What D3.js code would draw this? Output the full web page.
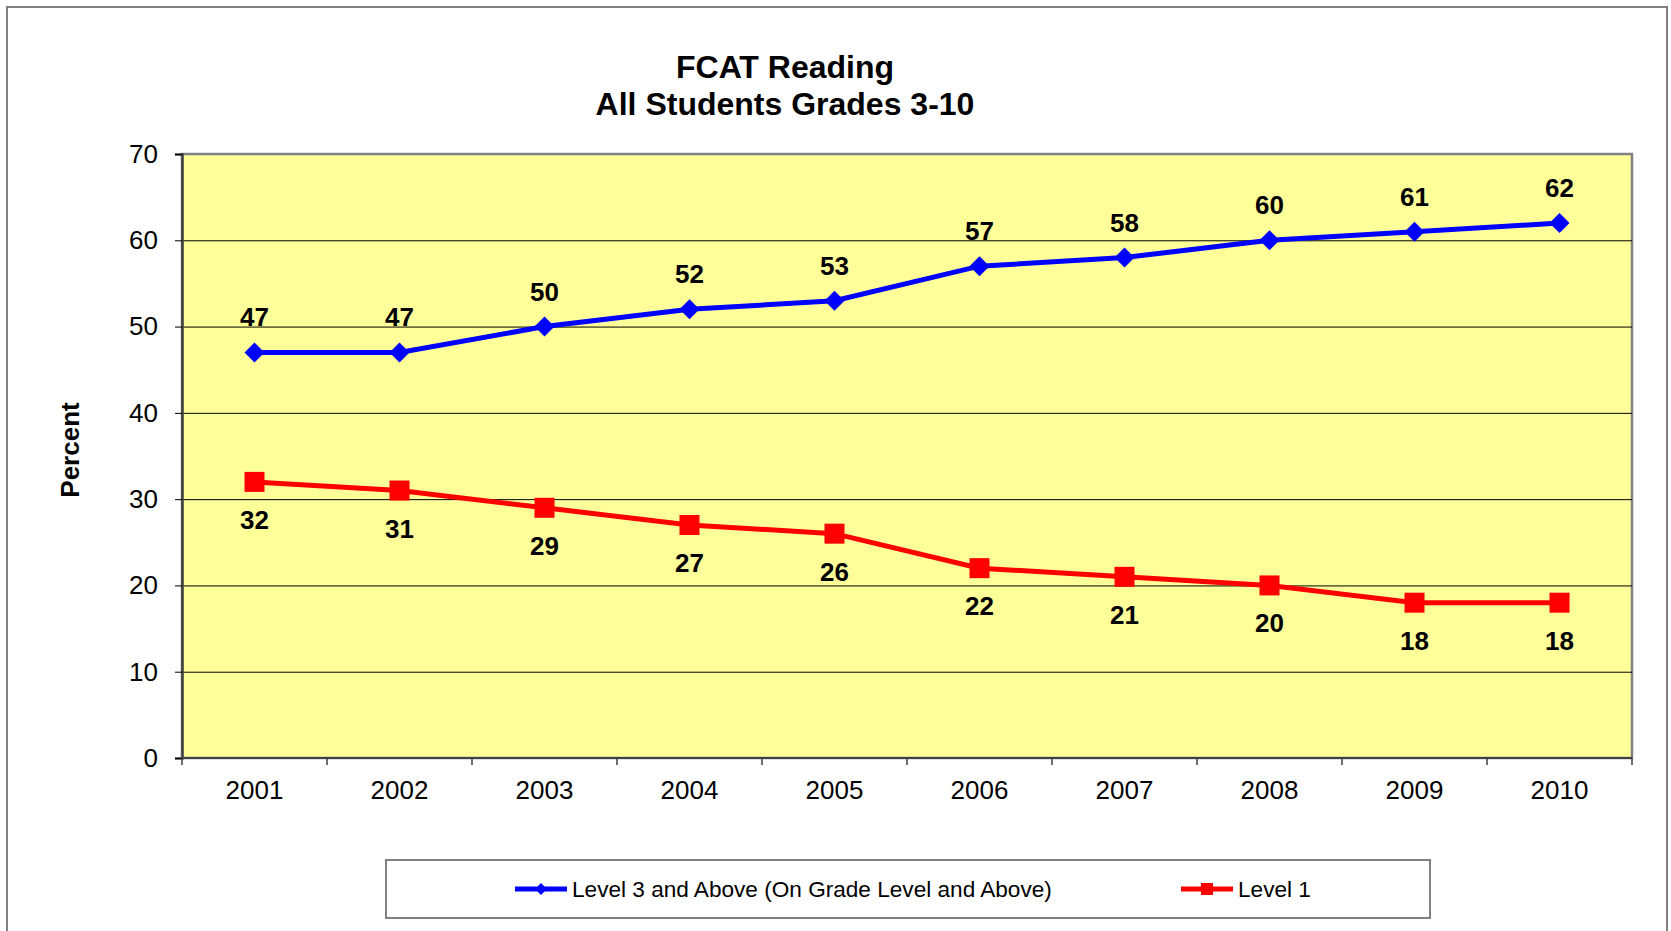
<!DOCTYPE html>
<html>
<head>
<meta charset="utf-8">
<script src="https://cdn.jsdelivr.net/npm/d3@7"></script>
<style>
  body { margin: 0; background: #fff; }
  text { font-family: Arial, "Liberation Sans", sans-serif; }
</style>
</head>
<body>
<div id="chart"></div>
<script>
// chart data
var years = ["2001", "2002", "2003", "2004", "2005", "2006", "2007", "2008", "2009", "2010"];
var level3 = [47, 47, 50, 52, 53, 57, 58, 60, 61, 62];
var level1 = [32, 31, 29, 27, 26, 22, 21, 20, 18, 18];
var yTicks = [0, 10, 20, 30, 40, 50, 60, 70];
var seriesNames = ["Level 3 and Above (On Grade Level and Above)", "Level 1"];

var W = 1671, H = 931;
var margin = { top: 154, left: 182 },
    width = 1450,
    height = 604;

var svg = d3.select("#chart")
    .append("svg")
    .attr("width", W)
    .attr("height", H);

// outer frame
svg.append("rect")
    .attr("x", 7).attr("y", 7)
    .attr("width", 1660).attr("height", 960)
    .attr("fill", "#fff")
    .attr("stroke", "#808080")
    .attr("stroke-width", 2);

// title
svg.append("text")
    .attr("x", 785).attr("y", 78)
    .attr("text-anchor", "middle")
    .attr("font-size", 32).attr("font-weight", "bold")
    .text("FCAT Reading");
svg.append("text")
    .attr("x", 785).attr("y", 115)
    .attr("text-anchor", "middle")
    .attr("font-size", 32).attr("font-weight", "bold")
    .text("All Students Grades 3-10");

var g = svg.append("g")
    .attr("transform", "translate(" + margin.left + "," + margin.top + ")");

var x = d3.scaleBand().domain(years).range([0, width]);
var y = d3.scaleLinear().domain([0, 70]).range([height, 0]);
var cx = d => x(d) + x.bandwidth() / 2;

// plot background
g.append("rect")
    .attr("width", width).attr("height", height)
    .attr("fill", "#ffff99")
    .attr("stroke", "#808080")
    .attr("stroke-width", 2.5);

// gridlines
g.append("g")
    .call(d3.axisLeft(y).tickValues(yTicks.slice(1, -1)).tickSize(-width).tickFormat(""))
    .call(a => a.select(".domain").remove())
    .call(a => a.selectAll("line").attr("stroke", "#000").attr("stroke-width", 1));

// y axis
g.append("g")
    .call(d3.axisLeft(y).tickValues(yTicks).tickSize(7).tickPadding(17))
    .call(a => a.select(".domain").attr("stroke", "#404040").attr("stroke-width", 2.5))
    .call(a => a.selectAll("line").attr("stroke", "#000"))
    .call(a => a.selectAll("text").attr("font-size", 26).attr("fill", "#000")
        .attr("font-family", "Arial, 'Liberation Sans', sans-serif"));

// x axis
var xa = g.append("g").attr("transform", "translate(0," + height + ")");
xa.append("line")
    .attr("x1", 0).attr("x2", width)
    .attr("stroke", "#404040").attr("stroke-width", 2);
xa.selectAll(".tk")
    .data(years.concat(["end"]))
    .enter().append("line")
    .attr("x1", d => d === "end" ? width : x(d))
    .attr("x2", d => d === "end" ? width : x(d))
    .attr("y1", 0).attr("y2", 7)
    .attr("stroke", "#404040").attr("stroke-width", 1.5);
xa.selectAll(".lbl")
    .data(years)
    .enter().append("text")
    .attr("x", d => cx(d))
    .attr("y", 41)
    .attr("text-anchor", "middle")
    .attr("font-size", 26)
    .text(d => d);

// y axis title
svg.append("text")
    .attr("transform", "translate(79,450) rotate(-90)")
    .attr("text-anchor", "middle")
    .attr("font-size", 26).attr("font-weight", "bold")
    .text("Percent");

var line = d3.line().x((d, i) => cx(years[i])).y(d => y(d));

// Level 3 series
g.append("path")
    .datum(level3)
    .attr("d", line)
    .attr("fill", "none")
    .attr("stroke", "#0000ff")
    .attr("stroke-width", 5);
g.selectAll(".dia")
    .data(level3)
    .enter().append("path")
    .attr("transform", (d, i) => "translate(" + cx(years[i]) + "," + y(d) + ")")
    .attr("d", "M0,-10L10,0L0,10L-10,0Z")
    .attr("fill", "#0000ff");
g.selectAll(".l3lbl")
    .data(level3)
    .enter().append("text")
    .attr("x", (d, i) => cx(years[i]))
    .attr("y", d => y(d) - 26)
    .attr("text-anchor", "middle")
    .attr("font-size", 26).attr("font-weight", "bold")
    .text(d => d);

// Level 1 series
g.append("path")
    .datum(level1)
    .attr("d", line)
    .attr("fill", "none")
    .attr("stroke", "#ff0000")
    .attr("stroke-width", 5);
g.selectAll(".sq")
    .data(level1)
    .enter().append("rect")
    .attr("x", (d, i) => cx(years[i]) - 10)
    .attr("y", d => y(d) - 10)
    .attr("width", 20).attr("height", 20)
    .attr("fill", "#ff0000");
g.selectAll(".l1lbl")
    .data(level1)
    .enter().append("text")
    .attr("x", (d, i) => cx(years[i]))
    .attr("y", d => y(d) + 47)
    .attr("text-anchor", "middle")
    .attr("font-size", 26).attr("font-weight", "bold")
    .text(d => d);

// legend
var lg = svg.append("g");
lg.append("rect")
    .attr("x", 386).attr("y", 860)
    .attr("width", 1044).attr("height", 58)
    .attr("fill", "#fff")
    .attr("stroke", "#808080")
    .attr("stroke-width", 2);

// level 3 key
lg.append("line")
    .attr("x1", 515).attr("x2", 567).attr("y1", 889).attr("y2", 889)
    .attr("stroke", "#0000ff").attr("stroke-width", 5);
lg.append("path")
    .attr("transform", "translate(541,889)")
    .attr("d", "M0,-6L6,0L0,6L-6,0Z")
    .attr("fill", "#0000ff");
lg.append("text")
    .attr("x", 572).attr("y", 897)
    .attr("font-size", 22.6)
    .text(seriesNames[0]);

// level 1 key
lg.append("line")
    .attr("x1", 1181).attr("x2", 1233).attr("y1", 889).attr("y2", 889)
    .attr("stroke", "#ff0000").attr("stroke-width", 5);
lg.append("rect")
    .attr("x", 1201).attr("y", 883)
    .attr("width", 12).attr("height", 12)
    .attr("fill", "#ff0000");
lg.append("text")
    .attr("x", 1238).attr("y", 897)
    .attr("font-size", 22.6)
    .text(seriesNames[1]);
</script>
</body>
</html>
